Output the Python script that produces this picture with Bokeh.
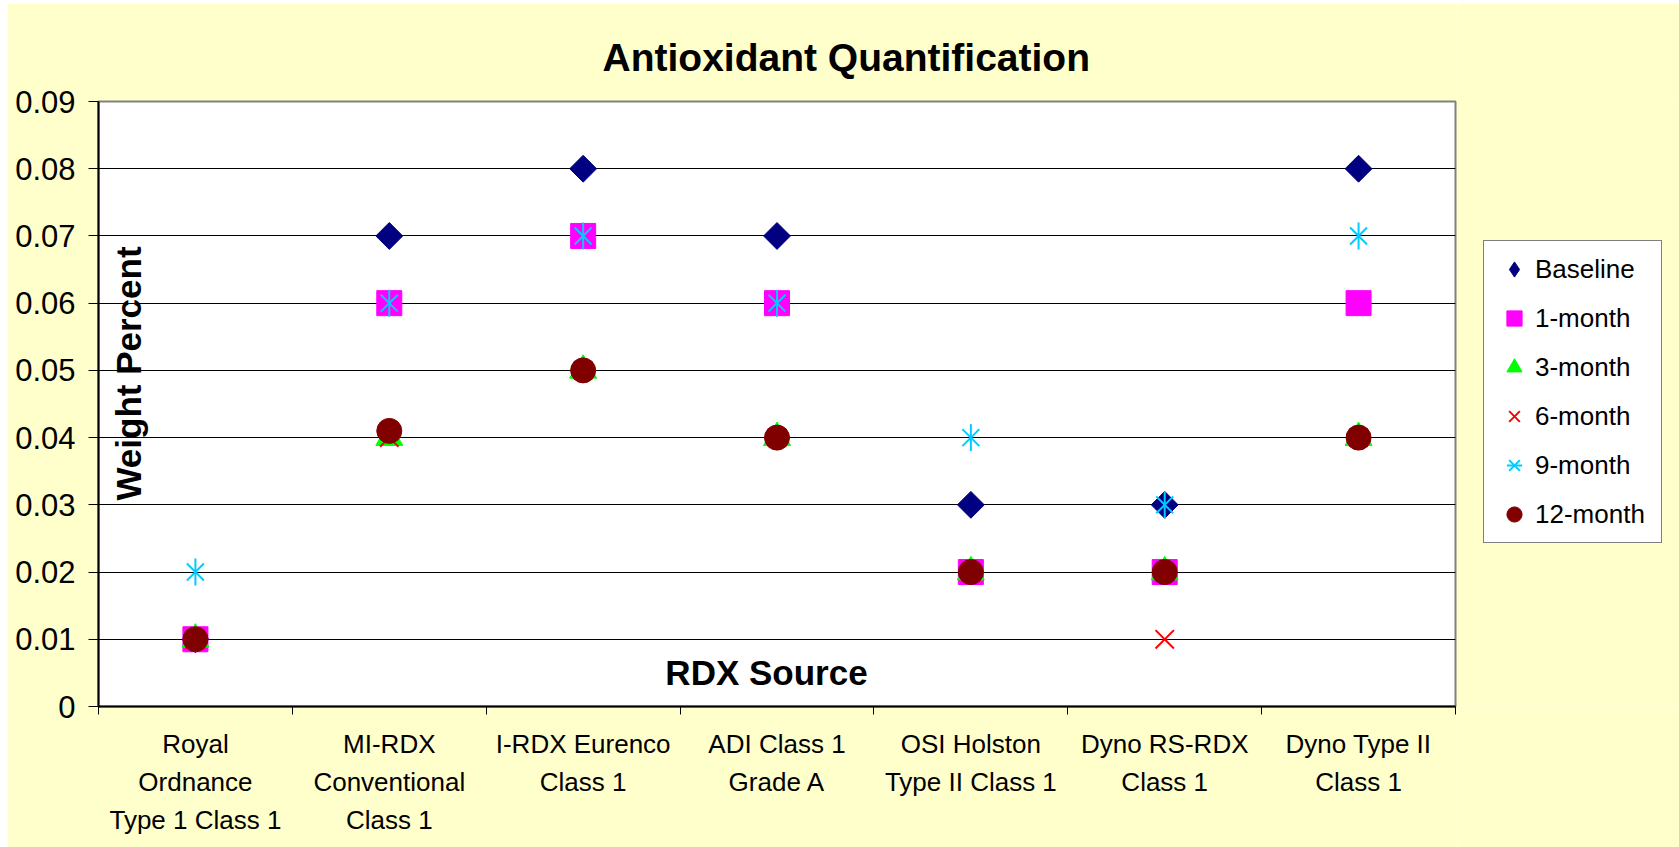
import math
from bokeh.plotting import figure
from bokeh.layouts import row
from bokeh.models import (ColumnDataSource, Range1d, FixedTicker, NumeralTickFormatter,
                          Legend, LegendItem, Label)
from bokeh.embed import file_html
from bokeh.resources import INLINE

# ---------------- data ----------------
title_text = "Antioxidant Quantification"
x_title = "RDX Source"
y_title = "Weight Percent"

categories = ["Royal Ordnance Type 1 Class 1", "MI-RDX Conventional Class 1",
              "I-RDX Eurenco Class 1", "ADI Class 1 Grade A",
              "OSI Holston Type II Class 1", "Dyno RS-RDX Class 1",
              "Dyno Type II Class 1"]
category_labels = ["Royal\nOrdnance\nType 1 Class 1", "MI-RDX\nConventional\nClass 1",
                   "I-RDX Eurenco\nClass 1", "ADI Class 1\nGrade A",
                   "OSI Holston\nType II Class 1", "Dyno RS-RDX\nClass 1",
                   "Dyno Type II\nClass 1"]

baseline = [0.01, 0.07, 0.08, 0.07, 0.03, 0.03, 0.08]
month_1 = [0.01, 0.06, 0.07, 0.06, 0.02, 0.02, 0.06]
month_3 = [0.01, 0.04, 0.05, 0.04, 0.02, 0.02, 0.04]
month_6 = [0.01, 0.04, 0.05, 0.04, 0.02, 0.01, 0.04]
month_9 = [0.02, 0.06, 0.07, 0.06, 0.04, 0.03, 0.07]
month_12 = [0.01, 0.041, 0.05, 0.04, 0.02, 0.02, 0.04]

series_names = ["Baseline", "1-month", "3-month", "6-month", "9-month", "12-month"]
y_ticks = [0, 0.01, 0.02, 0.03, 0.04, 0.05, 0.06, 0.07, 0.08, 0.09]

# ---------------- build ----------------
n = len(categories)
xs = [i + 0.5 for i in range(n)]
bounds = list(range(n + 1))

src = ColumnDataSource(dict(x=xs, cat=categories, b=baseline, m1=month_1, m3=month_3,
                            m6=month_6, m9=month_9, m12=month_12))

FONT = "Liberation Sans"
BG = "#FFFFCC"

p = figure(width=1450, height=844, margin=(3, 0, 0, 7),
           x_range=Range1d(0, n), y_range=Range1d(y_ticks[0], y_ticks[-1]),
           output_backend="svg", toolbar_location=None,
           min_border_left=91, min_border_right=2, min_border_top=98, min_border_bottom=141,
           border_fill_color=BG, background_fill_color="white",
           outline_line_color="#808080", outline_line_width=2,
           title=title_text)

p.title.text_font = FONT
p.title.text_font_size = "39px"
p.title.text_font_style = "bold"
p.title.text_color = "black"
p.title.align = "left"
p.title.offset = 504
p.title.standoff = 45

# x axis
xa = p.xaxis[0]
xa.ticker = FixedTicker(ticks=xs, minor_ticks=bounds)
xa.major_label_overrides = {x: lbl for x, lbl in zip(xs, category_labels)}
xa.major_tick_out = 0
xa.major_tick_in = 0
xa.minor_tick_out = 8
xa.minor_tick_in = 0
xa.minor_tick_line_color = "black"
xa.minor_tick_line_width = 1
xa.axis_line_color = "black"
xa.axis_line_width = 2
xa.major_label_text_font = FONT
xa.major_label_text_font_size = "26px"
xa.major_label_text_color = "black"
xa.major_label_text_line_height = 1.27
xa.major_label_standoff = 14

# y axis
ya = p.yaxis[0]
ya.ticker = FixedTicker(ticks=y_ticks, minor_ticks=[])
ya.formatter = NumeralTickFormatter(format="0.[00]")
ya.major_tick_out = 10
ya.major_tick_in = 0
ya.major_tick_line_color = "black"
ya.major_tick_line_width = 1
ya.axis_line_color = "black"
ya.axis_line_width = 2
ya.major_label_text_font = FONT
ya.major_label_text_font_size = "31px"
ya.major_label_text_color = "black"
ya.major_label_standoff = 13

p.xgrid.visible = False
p.ygrid.ticker = FixedTicker(ticks=y_ticks, minor_ticks=[])
p.ygrid.grid_line_color = "black"
p.ygrid.grid_line_width = 1

# markers
STY = {
    "b": dict(marker="square", angle=math.pi / 4, size=19, fill_color="#000080", line_color="#000080"),
    "m1": dict(marker="square", size=25, fill_color="#FF00FF", line_color="#FF00FF"),
    "m3": dict(marker="triangle", size=27, fill_color="#00FF00", line_color="#00FF00"),
    "m6": dict(marker="x", size=26, line_color="#FF0000", line_width=2),
    "m9a": dict(marker="x", size=24, line_color="#00CCFF", line_width=2),
    "m9b": dict(marker="dash", angle=math.pi / 2, size=27, line_color="#00CCFF", line_width=2),
    "m12": dict(marker="circle", size=25, fill_color="#800000", line_color="#800000"),
}
p.scatter("x", "b", source=src, **STY["b"])
p.scatter("x", "m1", source=src, **STY["m1"])
p.scatter("x", "m3", source=src, **STY["m3"])
p.scatter("x", "m6", source=src, **STY["m6"])
p.scatter("x", "m9", source=src, **STY["m9a"])
p.scatter("x", "m9", source=src, **STY["m9b"])
p.scatter("x", "m12", source=src, **STY["m12"])

# axis titles placed inside the plot area
p.add_layout(Label(x=30, y=333, x_units="screen", y_units="screen", text=y_title,
                   angle=math.pi / 2, text_align="center", text_baseline="middle",
                   text_font=FONT, text_font_size="35px", text_font_style="bold",
                   text_color="black"))
p.add_layout(Label(x=668, y=34, x_units="screen", y_units="screen", text=x_title,
                   text_align="center", text_baseline="middle",
                   text_font=FONT, text_font_size="35px", text_font_style="bold",
                   text_color="black"))

# ---------------- legend panel (same series, shown only as legend keys) ----------------
lf = figure(width=222, height=844, margin=(3, 0, 0, 0),
            x_range=Range1d(-2, -1), y_range=Range1d(-2, -1),
            output_backend="svg", toolbar_location=None,
            x_axis_location=None, y_axis_location=None, min_border=0,
            border_fill_color=BG, background_fill_color=BG, outline_line_color=None)
lf.grid.visible = False

k_b = lf.scatter("x", "b", source=src, marker="diamond", fill_color="#000080", line_color="#000080")
k_1 = lf.scatter("x", "m1", source=src, **STY["m1"])
k_3 = lf.scatter("x", "m3", source=src, **STY["m3"])
k_6 = lf.scatter("x", "m6", source=src, **STY["m6"])
k_9a = lf.scatter("x", "m9", source=src, **STY["m9a"])
k_9b = lf.scatter("x", "m9", source=src, **STY["m9b"])
k_12 = lf.scatter("x", "m12", source=src, **STY["m12"])

renderer_groups = [[k_b], [k_1], [k_3], [k_6], [k_9a, k_9b], [k_12]]
legend = Legend(items=[LegendItem(label=nm, renderers=rs) for nm, rs in zip(series_names, renderer_groups)],
                location=(26, 163), margin=0, padding=9, spacing=11,
                glyph_width=42, glyph_height=38, label_standoff=0, label_width=117,
                label_text_font=FONT, label_text_font_size="26px", label_text_color="black",
                border_line_color="black", border_line_width=1,
                background_fill_color="white", background_fill_alpha=1.0)
lf.add_layout(legend)

layout = row(p, lf, spacing=0)
open("out.html", "w").write(file_html(layout, INLINE))
